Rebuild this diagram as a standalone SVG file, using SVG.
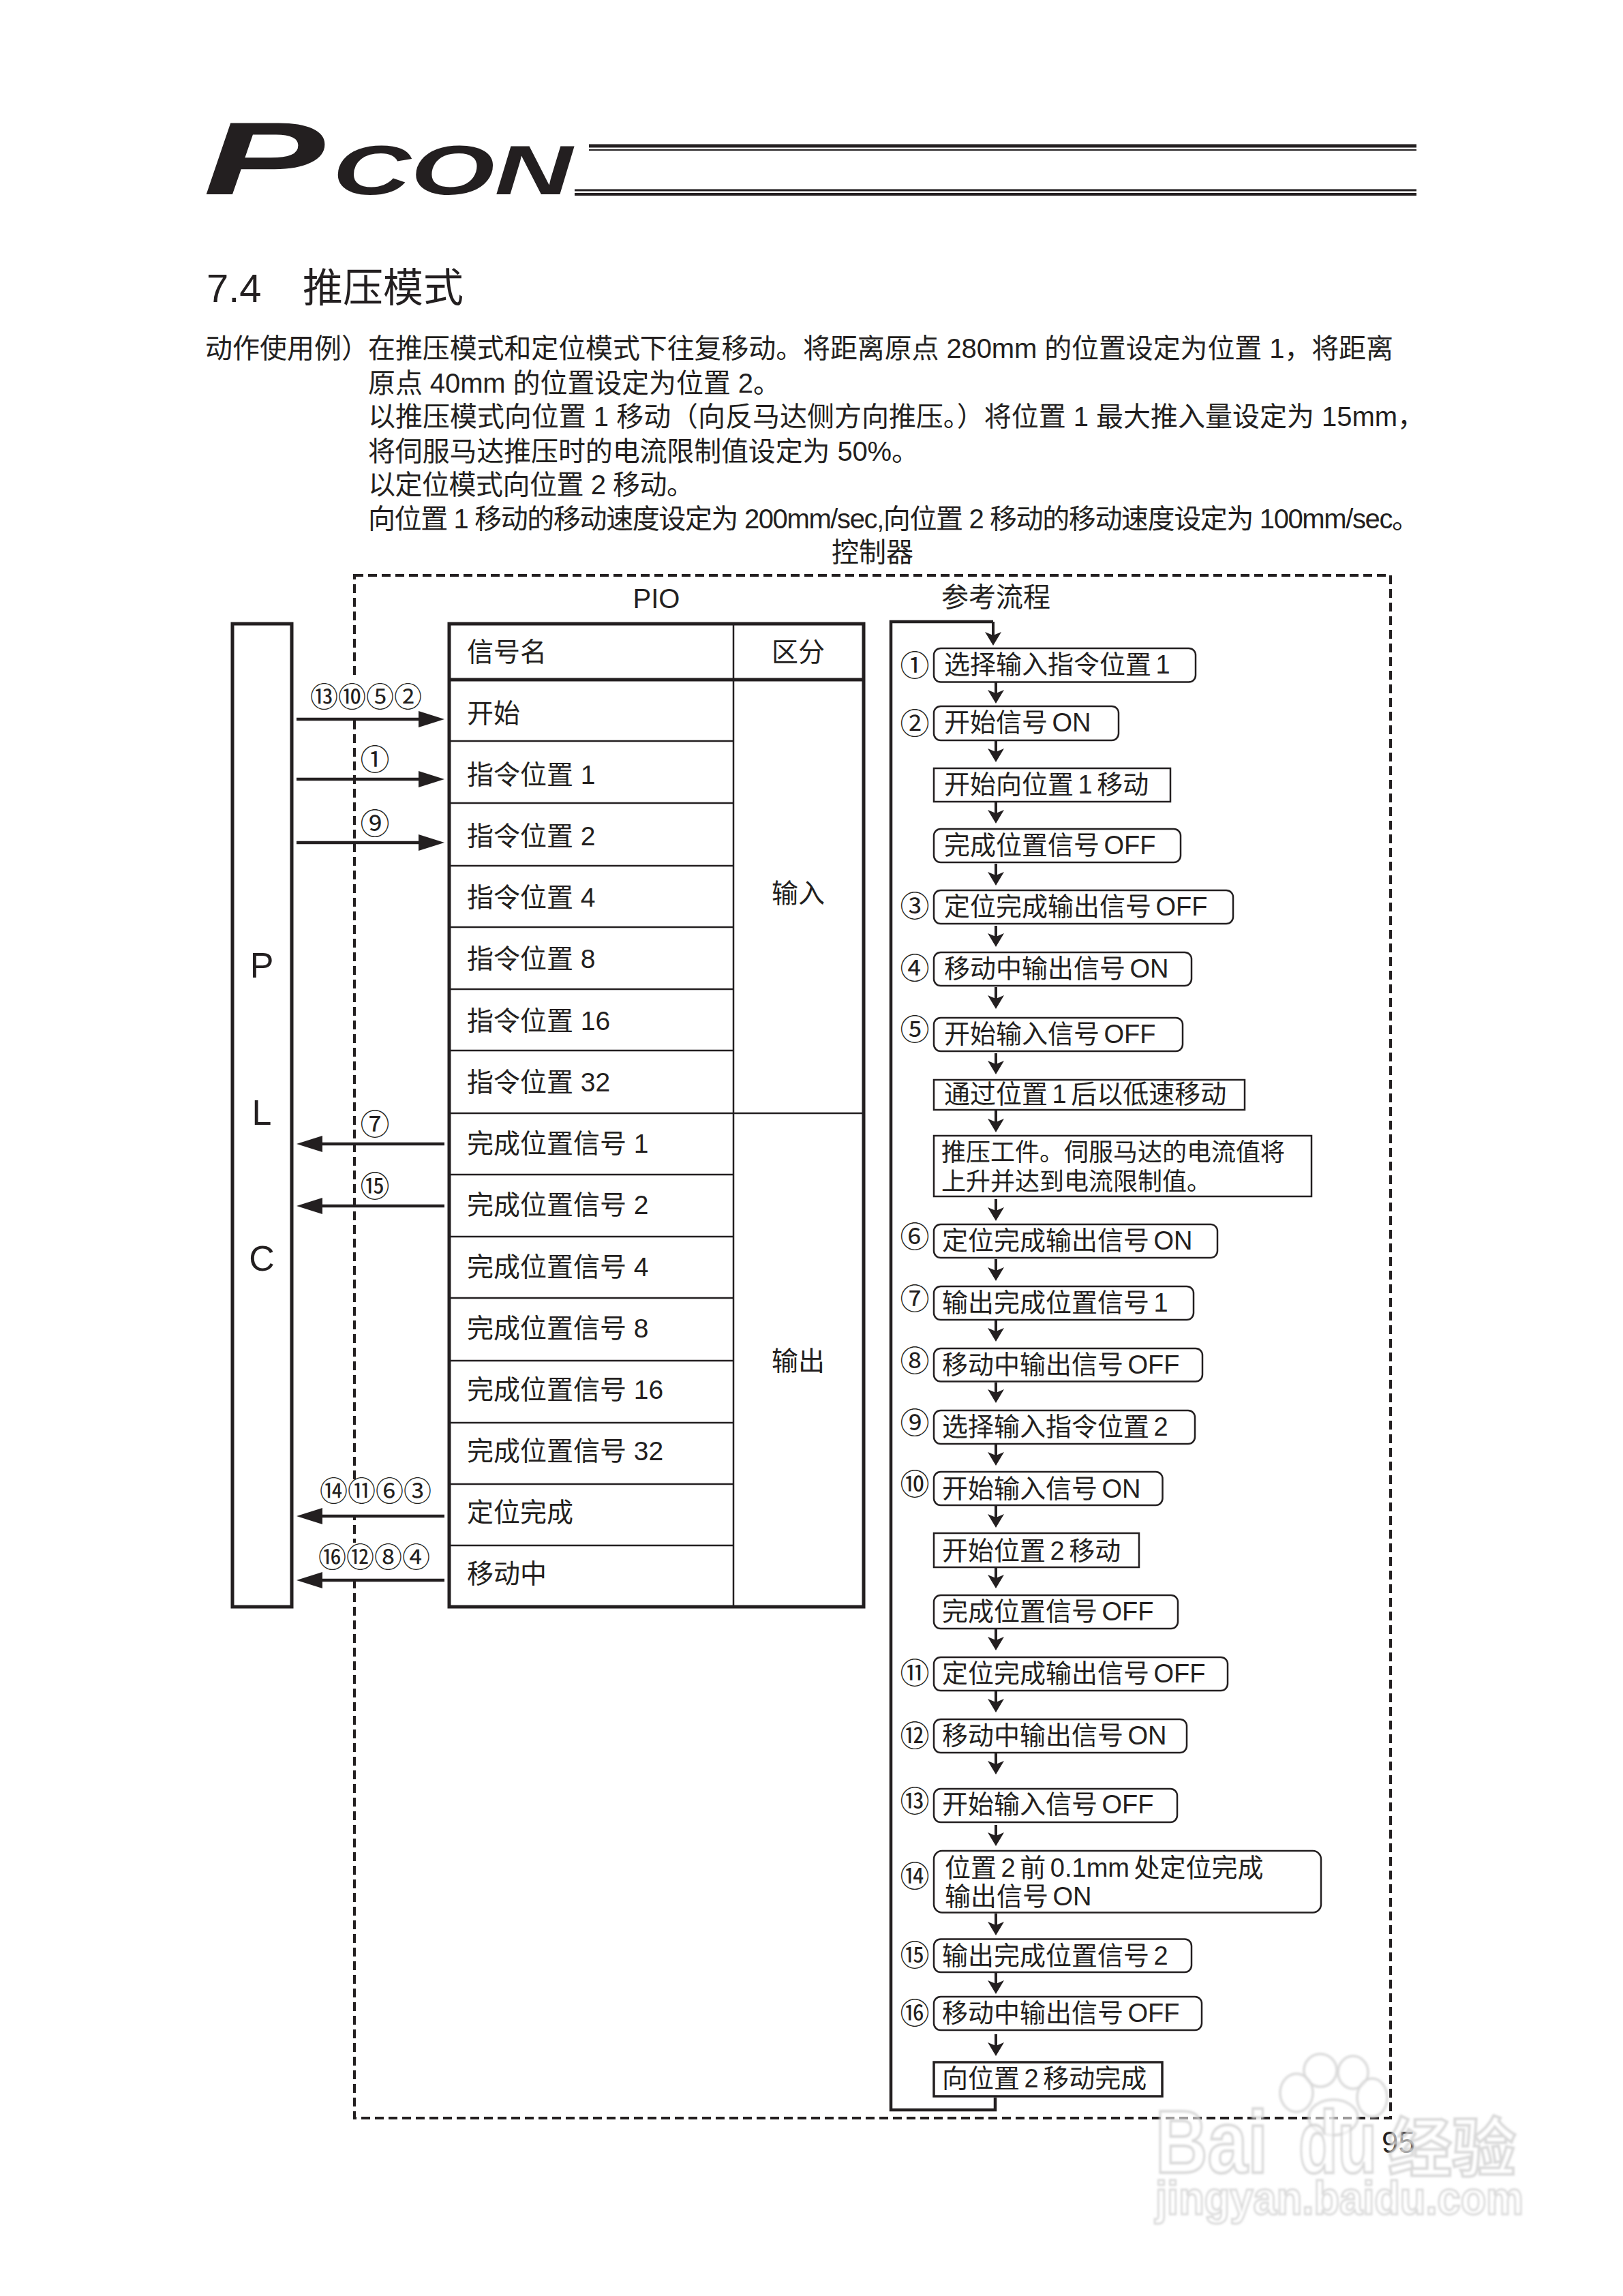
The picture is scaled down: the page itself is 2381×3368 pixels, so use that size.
<svg xmlns="http://www.w3.org/2000/svg" width="2381" height="3368" viewBox="0 0 2381 3368">
<style>
text{font-family:"Liberation Sans","Noto Sans CJK SC",sans-serif;fill:#231f20}
.b{font-size:40px}
.t{font-size:39px}
.f{font-size:38px;word-spacing:-4px}
.f2{font-size:36px}
.c{font-family:"Noto Sans CJK SC",sans-serif;font-size:43px;text-anchor:middle}
.cg{font-family:"Noto Sans CJK SC",sans-serif;font-size:41px;text-anchor:middle}
.m{text-anchor:middle}
.box{fill:#fff;stroke:#231f20;stroke-width:2.5}
.rule{stroke:#231f20;stroke-width:2.5;fill:none}
.outer{fill:none;stroke:#231f20;stroke-width:5}
.ar{stroke:#231f20;stroke-width:4.5;fill:none;marker-end:url(#big)}
.fl{stroke:#231f20;stroke-width:4;fill:none;marker-end:url(#small)}
.mask{fill:#fff}
.wm{font-family:"Liberation Sans","Noto Sans CJK SC",sans-serif;font-weight:bold;fill:#fff;stroke:#cfcfcf;stroke-width:4;fill-opacity:.55;stroke-opacity:.8}
.wp{fill:#fff;fill-opacity:.55;stroke:#d6d6d6;stroke-width:4;stroke-opacity:.8}
</style>
<defs>
<marker id="big" markerUnits="userSpaceOnUse" markerWidth="40" markerHeight="28" refX="28" refY="14" orient="auto"><path d="M0 2L38 14L0 26Z" fill="#231f20"/></marker>
<marker id="small" markerUnits="userSpaceOnUse" markerWidth="28" markerHeight="28" refX="10" refY="14" orient="auto"><path d="M0 2L20 14L0 26L5 14Z" fill="#231f20"/></marker>
<filter id="soft"><feGaussianBlur stdDeviation="1.6"/></filter>
</defs>
<rect width="2381" height="3368" fill="#fff"/>

<g id="header">
<text x="298" y="285" font-size="152" font-weight="bold" font-style="italic" textLength="178" lengthAdjust="spacingAndGlyphs">P</text>
<text x="488" y="285" font-size="102" font-weight="bold" font-style="italic" textLength="352" lengthAdjust="spacingAndGlyphs">CON</text>
<path d="M864 214H2078" stroke="#231f20" stroke-width="5"/>
<path d="M864 220H2078" stroke="#231f20" stroke-width="2"/>
<path d="M843 279H2078" stroke="#231f20" stroke-width="3"/>
<path d="M843 285H2078" stroke="#231f20" stroke-width="4"/>
</g>

<g id="intro">
<text x="303" y="443" font-size="58">7.4</text>
<text x="444" y="443" font-size="59">推压模式</text>
<text class="b" x="301" y="525">动作使用例）</text>
<text class="b" x="540" y="525" textLength="1504">在推压模式和定位模式下往复移动。将距离原点 280mm 的位置设定为位置 1，将距离</text>
<text class="b" x="540" y="576" textLength="605">原点 40mm 的位置设定为位置 2。</text>
<text class="b" x="540" y="625" textLength="1550">以推压模式向位置 1 移动（向反马达侧方向推压。）将位置 1 最大推入量设定为 15mm，</text>
<text class="b" x="540" y="676" textLength="808">将伺服马达推压时的电流限制值设定为 50%。</text>
<text class="b" x="540" y="725" textLength="478">以定位模式向位置 2 移动。</text>
<text class="b" x="540" y="775" textLength="1542">向位置 1 移动的移动速度设定为 200mm/sec,向位置 2 移动的移动速度设定为 100mm/sec。</text>
</g>

<g id="controller">
<rect x="520" y="844" width="1520" height="2263" fill="none" stroke="#231f20" stroke-width="4" stroke-dasharray="13 7"/>
<text class="b m" x="1280" y="824">控制器</text>
<text class="b m" x="963" y="892">PIO</text>
<text class="b m" x="1461" y="890">参考流程</text>
<rect class="mask" x="510" y="997" width="20" height="56"/>
<rect class="mask" x="510" y="2172" width="20" height="50"/>
<rect class="mask" x="510" y="2263" width="20" height="52"/>
</g>

<g id="plc">
<rect class="outer" x="341" y="915" width="87" height="1442"/>
<text class="m" x="384" y="1434" font-size="52">P</text>
<text class="m" x="384" y="1650" font-size="52">L</text>
<text class="m" x="384" y="1864" font-size="52">C</text>
</g>

<g id="pio-table">
<rect class="outer" x="659" y="915" width="608" height="1442"/>
<path d="M659 997H1267" stroke="#231f20" stroke-width="5"/>
<path class="rule" d="M1076 915V2357"/>
<path class="rule" d="M659 1087H1076M659 1178H1076M659 1270H1076M659 1360H1076M659 1451H1076M659 1541H1076M659 1633H1267M659 1723H1076M659 1814H1076M659 1904H1076M659 1996H1076M659 2087H1076M659 2177H1076M659 2267H1076"/>
<text class="t" x="685" y="970">信号名</text>
<text class="t m" x="1171" y="970">区分</text>
<text class="t m" x="1171" y="1324">输入</text>
<text class="t m" x="1171" y="2010">输出</text>
<text class="t" x="685" y="1060">开始</text>
<text class="t" x="685" y="1150">指令位置 1</text>
<text class="t" x="685" y="1240">指令位置 2</text>
<text class="t" x="685" y="1330">指令位置 4</text>
<text class="t" x="685" y="1420">指令位置 8</text>
<text class="t" x="685" y="1511">指令位置 16</text>
<text class="t" x="685" y="1601">指令位置 32</text>
<text class="t" x="685" y="1691">完成位置信号 1</text>
<text class="t" x="685" y="1781">完成位置信号 2</text>
<text class="t" x="685" y="1872">完成位置信号 4</text>
<text class="t" x="685" y="1962">完成位置信号 8</text>
<text class="t" x="685" y="2052">完成位置信号 16</text>
<text class="t" x="685" y="2142">完成位置信号 32</text>
<text class="t" x="685" y="2232">定位完成</text>
<text class="t" x="685" y="2322">移动中</text>
</g>

<g id="connectors">
<path class="ar" d="M435 1055H642"/>
<path class="ar" d="M435 1143H642"/>
<path class="ar" d="M435 1236H642"/>
<path class="ar" d="M652 1678H445"/>
<path class="ar" d="M652 1769H445"/>
<path class="ar" d="M652 2224H445"/>
<path class="ar" d="M652 2318H445"/>
<path d="M1460 3077V3095H1307V912H1457" fill="none" stroke="#231f20" stroke-width="4.5"/>
<path class="fl" d="M1457 912V937"/>
<path class="fl" d="M1461 1001V1022"/>
<path class="fl" d="M1461 1086V1108"/>
<path class="fl" d="M1461 1177V1198"/>
<path class="fl" d="M1461 1267V1289"/>
<path class="fl" d="M1461 1358V1379"/>
<path class="fl" d="M1461 1448V1470"/>
<path class="fl" d="M1461 1545V1566"/>
<path class="fl" d="M1461 1629V1651"/>
<path class="fl" d="M1461 1759V1781"/>
<path class="fl" d="M1461 1847V1869"/>
<path class="fl" d="M1461 1937V1958"/>
<path class="fl" d="M1461 2028V2048"/>
<path class="fl" d="M1461 2119V2140"/>
<path class="fl" d="M1461 2209V2231"/>
<path class="fl" d="M1461 2300V2320"/>
<path class="fl" d="M1461 2390V2411"/>
<path class="fl" d="M1461 2480V2502"/>
<path class="fl" d="M1461 2572V2593"/>
<path class="fl" d="M1461 2677V2698"/>
<path class="fl" d="M1461 2807V2829"/>
<path class="fl" d="M1461 2894V2915"/>
<path class="fl" d="M1461 2984V3006"/>
</g>

<g id="signal-labels">
<text class="cg" x="537" y="1037">⑬⑩⑤②</text>
<text class="c" x="550" y="1130">①</text>
<text class="c" x="550" y="1224">⑨</text>
<text class="c" x="550" y="1665">⑦</text>
<text class="c" x="550" y="1756">⑮</text>
<text class="cg" x="551" y="2202">⑭⑪⑥③</text>
<text class="cg" x="549" y="2299">⑯⑫⑧④</text>
</g>

<g id="step-1"><text class="c" x="1342" y="992">①</text><rect class="box" x="1370" y="951" width="384" height="49.5" rx="10"/><text class="f" x="1385" y="988">选择输入指令位置 1</text></g>
<g id="step-2"><text class="c" x="1342" y="1077">②</text><rect class="box" x="1370" y="1036" width="271" height="50" rx="10"/><text class="f" x="1385" y="1073">开始信号 ON</text></g>
<g id="step-move1"><rect class="box" x="1370" y="1127" width="347" height="49"/><text class="f" x="1385" y="1164">开始向位置 1 移动</text></g>
<g id="step-pos-off"><rect class="box" x="1370" y="1216" width="362" height="49" rx="10"/><text class="f" x="1385" y="1253">完成位置信号 OFF</text></g>
<g id="step-3"><text class="c" x="1342" y="1345">③</text><rect class="box" x="1370" y="1306" width="439" height="49" rx="10"/><text class="f" x="1385" y="1343">定位完成输出信号 OFF</text></g>
<g id="step-4"><text class="c" x="1342" y="1436">④</text><rect class="box" x="1370" y="1397" width="378" height="49" rx="10"/><text class="f" x="1385" y="1434">移动中输出信号 ON</text></g>
<g id="step-5"><text class="c" x="1342" y="1526">⑤</text><rect class="box" x="1370" y="1493" width="365" height="49" rx="10"/><text class="f" x="1385" y="1530">开始输入信号 OFF</text></g>
<g id="step-low"><rect class="box" x="1370" y="1584" width="456" height="44"/><text class="f" x="1385" y="1618">通过位置 1 后以低速移动</text></g>
<g id="step-push"><rect class="box" x="1370" y="1666" width="554" height="89"/><text class="f2" x="1381" y="1703">推压工件。伺服马达的电流值将</text><text class="f2" x="1381" y="1746">上升并达到电流限制值。</text></g>
<g id="step-6"><text class="c" x="1342" y="1830">⑥</text><rect class="box" x="1370" y="1796" width="416" height="49" rx="10"/><text class="f" x="1382" y="1833">定位完成输出信号 ON</text></g>
<g id="step-7"><text class="c" x="1342" y="1921">⑦</text><rect class="box" x="1370" y="1887" width="381" height="49" rx="10"/><text class="f" x="1382" y="1924">输出完成位置信号 1</text></g>
<g id="step-8"><text class="c" x="1342" y="2012">⑧</text><rect class="box" x="1370" y="1978" width="394" height="48.5" rx="10"/><text class="f" x="1382" y="2015">移动中输出信号 OFF</text></g>
<g id="step-9"><text class="c" x="1342" y="2103">⑨</text><rect class="box" x="1370" y="2069" width="383" height="49" rx="10"/><text class="f" x="1382" y="2106">选择输入指令位置 2</text></g>
<g id="step-10"><text class="c" x="1342" y="2193">⑩</text><rect class="box" x="1370" y="2159" width="335.5" height="49" rx="10"/><text class="f" x="1382" y="2197">开始输入信号 ON</text></g>
<g id="step-move2"><rect class="box" x="1370" y="2249" width="301" height="50"/><text class="f" x="1382" y="2288">开始位置 2 移动</text></g>
<g id="step-pos-off2"><rect class="box" x="1370" y="2340" width="358" height="49" rx="10"/><text class="f" x="1382" y="2377">完成位置信号 OFF</text></g>
<g id="step-11"><text class="c" x="1342" y="2470">⑪</text><rect class="box" x="1370" y="2431" width="431" height="49" rx="10"/><text class="f" x="1382" y="2468">定位完成输出信号 OFF</text></g>
<g id="step-12"><text class="c" x="1342" y="2562">⑫</text><rect class="box" x="1370" y="2522" width="371" height="49" rx="10"/><text class="f" x="1382" y="2559">移动中输出信号 ON</text></g>
<g id="step-13"><text class="c" x="1342" y="2658">⑬</text><rect class="box" x="1370" y="2624" width="357" height="49" rx="10"/><text class="f" x="1382" y="2660">开始输入信号 OFF</text></g>
<g id="step-14"><text class="c" x="1342" y="2768">⑭</text><rect class="box" x="1370" y="2715" width="568" height="90.5" rx="12"/><text class="f" x="1386" y="2753">位置 2 前 0.1mm 处定位完成</text><text class="f" x="1386" y="2795">输出信号 ON</text></g>
<g id="step-15"><text class="c" x="1342" y="2884">⑮</text><rect class="box" x="1370" y="2844.5" width="378" height="48.5" rx="10"/><text class="f" x="1382" y="2882">输出完成位置信号 2</text></g>
<g id="step-16"><text class="c" x="1342" y="2969">⑯</text><rect class="box" x="1370" y="2929" width="393" height="49" rx="10"/><text class="f" x="1382" y="2966">移动中输出信号 OFF</text></g>
<g id="step-end"><rect class="box" x="1370" y="3025" width="335" height="50" style="stroke-width:3.5"/><text class="f" x="1382" y="3062">向位置 2 移动完成</text></g>

<text id="page-number" x="2027" y="3158" font-size="44">95</text>

<g id="watermark" filter="url(#soft)">
<ellipse class="wp" cx="1937" cy="3037" rx="24" ry="24"/>
<ellipse class="wp" cx="1985" cy="3040" rx="22" ry="24"/>
<ellipse class="wp" cx="1902" cy="3070" rx="24" ry="28"/>
<ellipse class="wp" cx="2013" cy="3077" rx="22" ry="28"/>
<ellipse class="wp" cx="1956" cy="3106" rx="36" ry="26"/>
<text class="wm" x="1695" y="3187" font-size="130" textLength="165" lengthAdjust="spacingAndGlyphs">Bai</text>
<text class="wm" x="1905" y="3187" font-size="130" textLength="115" lengthAdjust="spacingAndGlyphs">du</text>
<text class="wm" x="2036" y="3185" font-size="94" style="font-weight:bold">经验</text>
<text class="wm" x="1695" y="3248" font-size="68" textLength="540" lengthAdjust="spacingAndGlyphs" style="stroke-width:3">jingyan.baidu.com</text>
</g>
</svg>
